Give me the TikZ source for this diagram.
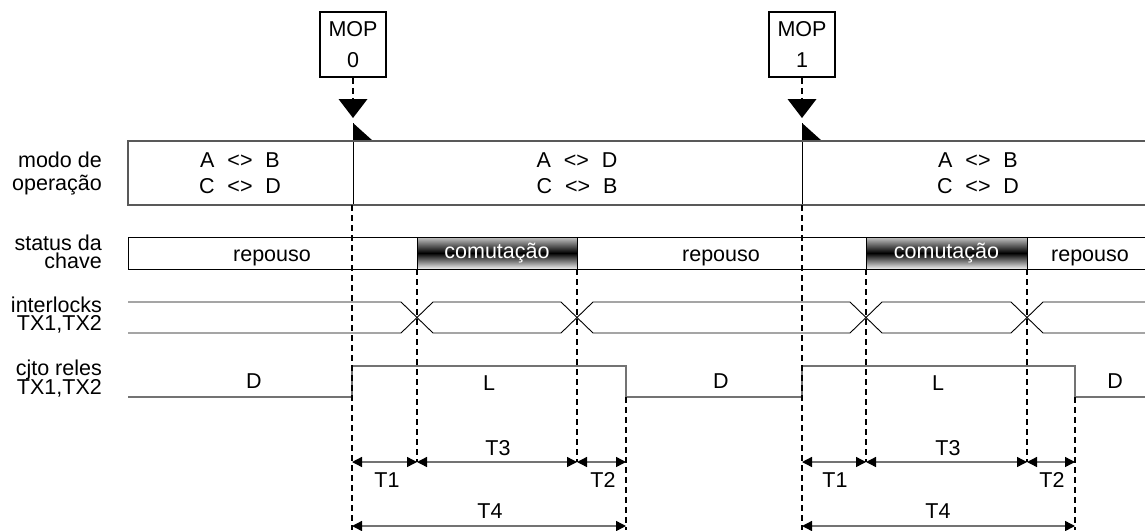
\documentclass[tikz,border=0pt]{standalone}
\usepackage{fontspec}
\setmainfont{Liberation Sans}
\usetikzlibrary{arrows.meta}
\begin{document}
\begin{tikzpicture}[x=1pt,y=-1pt,
  txt/.style={font=\fontsize{21.5}{21.5}\selectfont, inner sep=0pt, anchor=base},
  side/.style={txt, anchor=base east},
  mopbox/.style={draw=black, line width=1.6pt, minimum width=66pt, minimum height=65pt,
    inner sep=0pt, align=center, font=\fontsize{21.5}{31}\selectfont},
  trig/.style={fill=black},
  guide/.style={draw=black, line width=1.3pt, dash pattern=on 6pt off 4pt},
  frame/.style={draw=black!65, line width=1.1pt},
  statusline/.style={draw=black, line width=1pt},
  signal/.style={draw=black, line width=0.9pt},
  relay/.style={draw=black!55, line width=1.4pt},
  comut/.style={draw=black, line width=1pt, minimum width=160pt, minimum height=32pt,
    inner sep=0pt, top color=black!22, bottom color=black!5, middle color=black,
    text=white, font=\fontsize{21.5}{21.5}\selectfont},
  dim/.style={draw=black!55, line width=1.4pt,
    {Triangle[length=10pt,width=10pt,color=black]}-{Triangle[length=10pt,width=10pt,color=black]}}
]
\useasboundingbox (0,0) rectangle (1145,530);

% ---- row labels
\node[side] (l1a) at (102,167) {modo de};
\node[side] (l1b) at (102,190) {operação};
\node[side] (l2a) at (102,250) {status da};
\node[side] (l2b) at (102,268) {chave};
\node[side] (l3a) at (102,312) {interlocks};
\node[side] (l3b) at (102,330) {TX1,TX2};
\node[side] (l4a) at (102,375) {cjto reles};
\node[side] (l4b) at (102,394) {TX1,TX2};

% ---- events MOP 0 and MOP 1
\foreach \n/\x/\lab in {0/353/0, 1/802/1}{
  \node[mopbox] (mop\n) at (\x,44.5) {MOP\\\lab};
  \coordinate (tri\n) at (\x,99);
  \draw[guide] (mop\n.south) -- (tri\n);
  \fill[trig] (\x-14.5,99) -- (\x+14.5,99) -- (\x,118) -- cycle;
  \fill[trig] (\x,123) -- (\x,141) -- (\x+20,141) -- cycle;
  \coordinate (ev\n) at (\x,123);
  \coordinate (evm\n) at (\x,205);
  \draw[statusline] (ev\n) -- (evm\n);
}

% ---- mode of operation (open on the right)
\draw[frame] (1145,141) -- (128,141) -- (128,205) -- (1145,205);
\node[txt] (m1a) at (240,167) {A\hspace{0.6em}<>\hspace{0.6em}B};
\node[txt] (m1b) at (240,193) {C\hspace{0.6em}<>\hspace{0.6em}D};
\node[txt] (m2a) at (577,167) {A\hspace{0.6em}<>\hspace{0.6em}D};
\node[txt] (m2b) at (577,193) {C\hspace{0.6em}<>\hspace{0.6em}B};
\node[txt] (m3a) at (978,167) {A\hspace{0.6em}<>\hspace{0.6em}B};
\node[txt] (m3b) at (978,193) {C\hspace{0.6em}<>\hspace{0.6em}D};

% ---- switch status
\draw[statusline] (1145,237) -- (128,237) -- (128,269) -- (1145,269);
\node[comut] (c1) at (497,253) {comutação};
\node[comut, minimum width=161pt] (c2) at (946.5,253) {comutação};
\node[txt] (r1) at (272,261) {repouso};
\node[txt] (r2) at (721,261) {repouso};
\node[txt] (r3) at (1090,261) {repouso};

% ---- interlocks TX1,TX2
\draw[signal] (128,302) -- (401,302) -- (433,333) -- (561,333) -- (593,302)
  -- (850,302) -- (882,333) -- (1011,333) -- (1043,302) -- (1145,302);
\draw[signal] (128,333) -- (401,333) -- (433,302) -- (561,302) -- (593,333)
  -- (850,333) -- (882,302) -- (1011,302) -- (1043,333) -- (1145,333);

% ---- relay set TX1,TX2
\draw[relay] (128,397) -- (352,397) -- (352,366) -- (626,366) -- (626,397)
  -- (802,397) -- (802,366) -- (1075,366) -- (1075,397) -- (1145,397);
\node[txt] (d1) at (254,388) {D};
\node[txt] (L1) at (489,390) {L};
\node[txt] (d2) at (721,388) {D};
\node[txt] (L2) at (938,390) {L};
\node[txt] (d3) at (1115,388) {D};

% ---- timing guides and intervals
\foreach \k/\a/\b/\c/\d in {0/352/417/577/626, 1/802/866/1027/1075}{
  \coordinate (a\k) at (\a,526);
  \coordinate (b\k) at (\b,462);
  \coordinate (c\k) at (\c,462);
  \coordinate (d\k) at (\d,526);
  \coordinate (a\k m) at (\a,462);
  \coordinate (d\k m) at (\d,462);
  \draw[guide] (\a,205) -- (\a,530);
  \draw[guide] (\b,269) -- (b\k);
  \draw[guide] (\c,269) -- (c\k);
  \draw[guide] (\d,397) -- (\d,530);
  \draw[dim] (a\k m) -- (b\k);
  \draw[dim] (b\k) -- (c\k);
  \draw[dim] (c\k) -- (d\k m);
  \draw[dim] (a\k) -- (d\k);
}
\node[txt] (t1a) at (387,487) {T1};
\node[txt] (t3a) at (498,455) {T3};
\node[txt] (t2a) at (603,487) {T2};
\node[txt] (t4a) at (490,518) {T4};
\node[txt] (t1b) at (835,487) {T1};
\node[txt] (t3b) at (948,455) {T3};
\node[txt] (t2b) at (1052,487) {T2};
\node[txt] (t4b) at (938,518) {T4};
\end{tikzpicture}
\end{document}
